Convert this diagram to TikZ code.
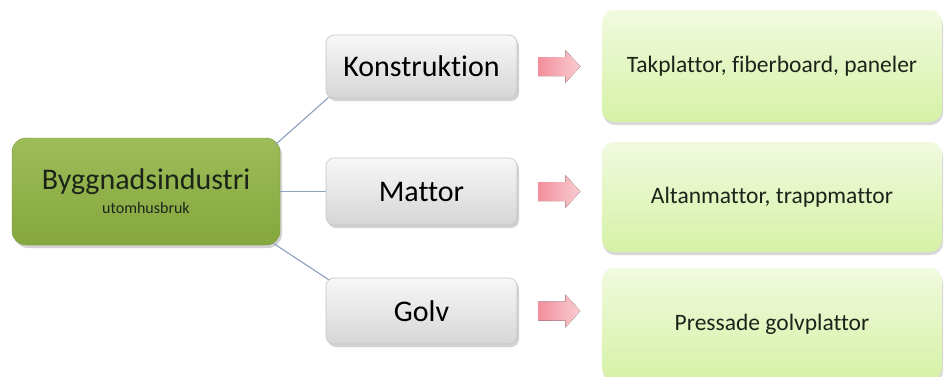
\documentclass[tikz,border=0pt]{standalone}
\usepackage{fontspec}
\setmainfont{Carlito}[Ligatures={NoCommon}]
\usetikzlibrary{shadows,calc}
\definecolor{lineblue}{HTML}{8DA0BC}
\definecolor{maintop}{HTML}{9CBD58}
\definecolor{mainbot}{HTML}{85A73E}
\definecolor{graytop}{HTML}{F7F7F7}
\definecolor{graybot}{HTML}{D6D6D6}
\definecolor{grayedge}{HTML}{C4C4C4}
\definecolor{greentop}{HTML}{F1FADF}
\definecolor{greenbot}{HTML}{D6F1A6}
\definecolor{pinkl}{HTML}{F28E9B}
\definecolor{pinkr}{HTML}{F9CDD1}
\definecolor{txtdark}{HTML}{1C241A}
\tikzset{
  mainbox/.style={rounded corners=14pt, top color=maintop, bottom color=mainbot,
    draw=mainbot!90!black, line width=0.4pt, minimum width=268, minimum height=107,
    align=center, text=txtdark,
    drop shadow={shadow xshift=2pt, shadow yshift=-3pt, opacity=0.35}},
  catbox/.style={rounded corners=8pt, top color=graytop, bottom color=graybot,
    draw=grayedge, line width=0.6pt, minimum width=191, text=black,
    font=\fontsize{30}{34}\selectfont,
    drop shadow={shadow xshift=2pt, shadow yshift=-3pt, opacity=0.35}},
  resbox/.style={rounded corners=12pt, top color=greentop, bottom color=greenbot,
    draw=none, minimum width=340, text=txtdark,
    font=\fontsize{23.5}{26}\selectfont,
    drop shadow={shadow xshift=1pt, shadow yshift=-3pt, opacity=0.3}},
  conn/.style={draw=lineblue, line width=1.1pt},
  pinkarrow/.style={left color=pinkl, right color=pinkr, draw=none}
}
\begin{document}
\begin{tikzpicture}[x=1pt,y=-1pt]
\useasboundingbox (0,0) rectangle (944,376);
\fill[white] (0,0) rectangle (944,376);
\clip (0,0) rectangle (944,376);

\node[mainbox] (main) at (146,191.5)
  {\fontsize{30}{24}\selectfont Byggnadsindustri\\[7pt]
   {\fontsize{16}{18}\selectfont utomhusbruk}};

\node[catbox, minimum height=63] (k) at (421.5,66.5) {Konstruktion};
\node[catbox, minimum height=67] (m) at (421.5,191.5) {Mattor};
\node[catbox, minimum height=66] (g) at (421.5,311) {Golv};

\node[resbox, minimum height=112] (r1) at (772,66) {Takplattor, fiberboard, paneler};
\node[resbox, minimum height=110] (r2) at (772,197) {Altanmattor, trappmattor};
\node[resbox, minimum height=112] (r3) at (772,324) {Pressade golvplattor};

\draw[conn] ([shift={(-5,7)}]main.north east) -- ([shift={(3,-1)}]k.south west);
\draw[conn] (main.east) -- (m.west);
\draw[conn] ([shift={(-7,-2)}]main.south east) -- ([shift={(3,2)}]g.north west);

\foreach \n in {k,m,g}{
  \fill[pinkarrow] ($(\n.east)+(21,-9.5)$) -- ++(27,0) -- ++(0,-7) -- ++(15,16.5)
    -- ++(-15,16.5) -- ++(0,-7) -- ++(-27,0) -- cycle;
}
\end{tikzpicture}
\end{document}
